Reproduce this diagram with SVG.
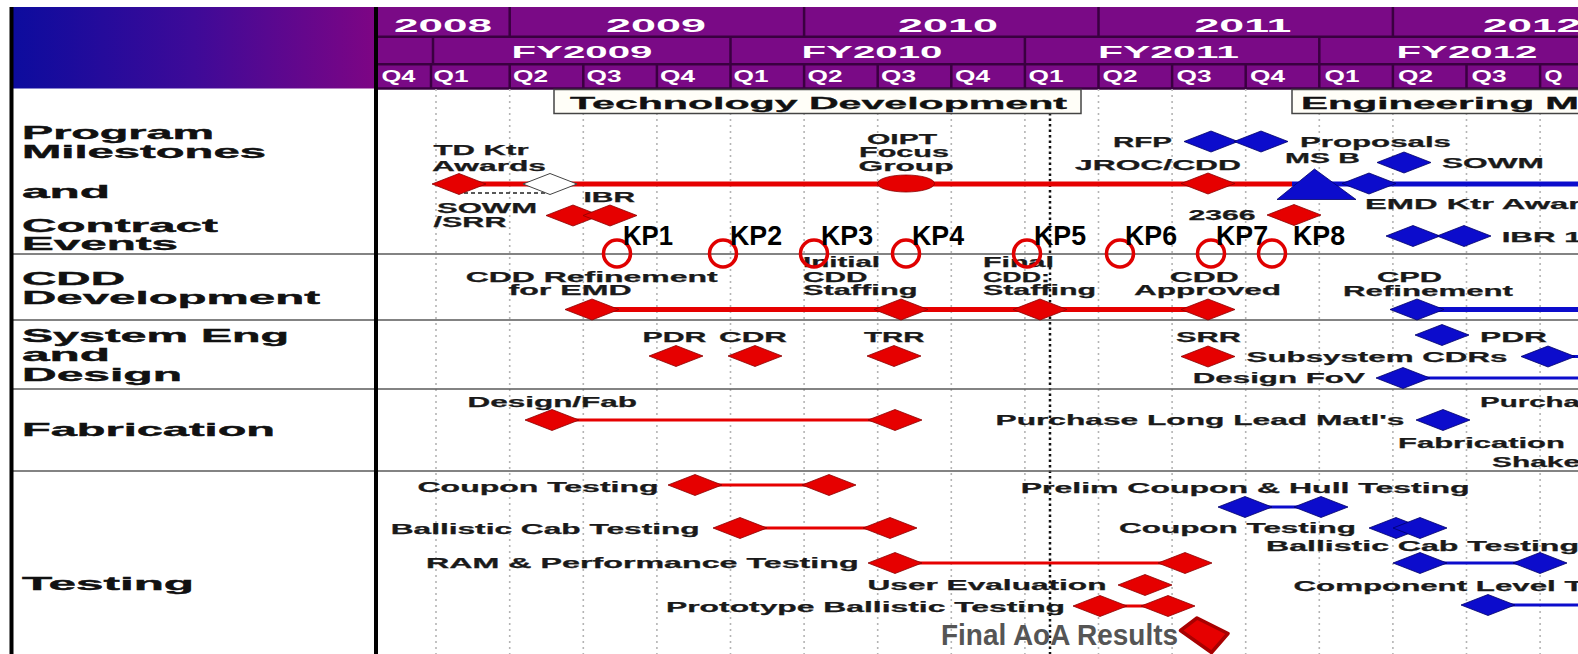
<svg xmlns="http://www.w3.org/2000/svg" width="1578" height="654" viewBox="0 0 1578 654">
<defs>
  <linearGradient id="hdrGrad" x1="0" x2="1" y1="0" y2="0">
    <stop offset="0" stop-color="#0c0c9e"/>
    <stop offset="0.5" stop-color="#3e0a98"/>
    <stop offset="1" stop-color="#7e0584"/>
  </linearGradient>
  <polygon id="dm" points="-27,0 0,-10.5 27,0 0,10.5"/>
</defs>
<style>
  .hd{font-family:"Liberation Sans",Arial,sans-serif;font-weight:bold;fill:#fff}
  .lb{font-family:"Liberation Sans",Arial,sans-serif;font-weight:bold;font-size:19px;fill:#111;stroke:#111;stroke-width:.4}
  .t{font-family:"Liberation Sans",Arial,sans-serif;font-weight:bold;font-size:14px;fill:#1a1a1a;stroke:#1a1a1a;stroke-width:.25}
  .ph{font-family:"Liberation Sans",Arial,sans-serif;font-weight:bold;font-size:16px;fill:#111;stroke:#111;stroke-width:.3}
  .kp{font-family:"Liberation Sans",Arial,sans-serif;font-weight:bold;font-size:28px;fill:#000}
  .aoa{font-family:"Liberation Sans",Arial,sans-serif;font-weight:bold;font-size:30px;fill:#555}
  .r{fill:#e60000;stroke:#8c0000;stroke-width:.8}
  .b{fill:#0c0ccc;stroke:#00006a;stroke-width:.8}
  .grid{stroke:#b4b4b4;stroke-width:1.6;stroke-dasharray:2 4}
  .row{stroke:#5a5a5a;stroke-width:1.6}
  .sep{stroke:#3a0040;stroke-width:2.5}
  .kc{fill:none;stroke:#e00000;stroke-width:3.5}
  .lr{stroke:#e60000;fill:none}
  .lbl{stroke:#0c0ccc;fill:none}
</style>

<rect width="1578" height="654" fill="#fff"/>

<!-- header block -->
<g id="header">
  <rect x="11" y="7" width="366" height="81.5" fill="url(#hdrGrad)"/>
  <rect x="377" y="7" width="1201" height="81.5" fill="#7a0a86"/>
  <g class="sep">
    <line x1="377" y1="36.7" x2="1578" y2="36.7"/>
    <line x1="377" y1="64.3" x2="1578" y2="64.3"/>
    <line x1="377" y1="88.5" x2="1578" y2="88.5"/>
    <line x1="509.7" y1="7" x2="509.7" y2="36.7"/>
    <line x1="804.1" y1="7" x2="804.1" y2="36.7"/>
    <line x1="1098.5" y1="7" x2="1098.5" y2="36.7"/>
    <line x1="1392.9" y1="7" x2="1392.9" y2="36.7"/>
    <line x1="433" y1="36.7" x2="433" y2="64.3"/>
    <line x1="730.5" y1="36.7" x2="730.5" y2="64.3"/>
    <line x1="1024.9" y1="36.7" x2="1024.9" y2="64.3"/>
    <line x1="1319.3" y1="36.7" x2="1319.3" y2="64.3"/>
    <line x1="431" y1="64.3" x2="431" y2="88.5"/>
    <line x1="509.7" y1="64.3" x2="509.7" y2="88.5"/>
    <line x1="583.3" y1="64.3" x2="583.3" y2="88.5"/>
    <line x1="656.9" y1="64.3" x2="656.9" y2="88.5"/>
    <line x1="730.5" y1="64.3" x2="730.5" y2="88.5"/>
    <line x1="804.1" y1="64.3" x2="804.1" y2="88.5"/>
    <line x1="877.7" y1="64.3" x2="877.7" y2="88.5"/>
    <line x1="951.3" y1="64.3" x2="951.3" y2="88.5"/>
    <line x1="1024.9" y1="64.3" x2="1024.9" y2="88.5"/>
    <line x1="1098.5" y1="64.3" x2="1098.5" y2="88.5"/>
    <line x1="1172.1" y1="64.3" x2="1172.1" y2="88.5"/>
    <line x1="1245.7" y1="64.3" x2="1245.7" y2="88.5"/>
    <line x1="1319.3" y1="64.3" x2="1319.3" y2="88.5"/>
    <line x1="1392.9" y1="64.3" x2="1392.9" y2="88.5"/>
    <line x1="1466.5" y1="64.3" x2="1466.5" y2="88.5"/>
    <line x1="1540.1" y1="64.3" x2="1540.1" y2="88.5"/>
  </g>
  <g class="hd" font-size="19" text-anchor="middle">
    <text x="443" y="31.7" textLength="98" lengthAdjust="spacingAndGlyphs">2008</text>
    <text x="656" y="31.7" textLength="100" lengthAdjust="spacingAndGlyphs">2009</text>
    <text x="948" y="31.7" textLength="100" lengthAdjust="spacingAndGlyphs">2010</text>
    <text x="1243" y="31.7" textLength="97" lengthAdjust="spacingAndGlyphs">2011</text>
    <text x="1532" y="31.7" textLength="98" lengthAdjust="spacingAndGlyphs">2012</text>
  </g>
  <g class="hd" font-size="16.5" text-anchor="middle">
    <text x="582" y="58.3" textLength="141" lengthAdjust="spacingAndGlyphs">FY2009</text>
    <text x="872" y="58.3" textLength="141" lengthAdjust="spacingAndGlyphs">FY2010</text>
    <text x="1168.5" y="58.3" textLength="141" lengthAdjust="spacingAndGlyphs">FY2011</text>
    <text x="1467" y="58.3" textLength="141" lengthAdjust="spacingAndGlyphs">FY2012</text>
  </g>
  <g class="hd" font-size="17">
    <text x="381.5" y="81.5" textLength="34" lengthAdjust="spacingAndGlyphs">Q4</text>
    <text x="433.5" y="81.5" textLength="35" lengthAdjust="spacingAndGlyphs">Q1</text>
    <text x="513" y="81.5" textLength="35" lengthAdjust="spacingAndGlyphs">Q2</text>
    <text x="586.5" y="81.5" textLength="35" lengthAdjust="spacingAndGlyphs">Q3</text>
    <text x="660" y="81.5" textLength="35" lengthAdjust="spacingAndGlyphs">Q4</text>
    <text x="733.5" y="81.5" textLength="35" lengthAdjust="spacingAndGlyphs">Q1</text>
    <text x="807.5" y="81.5" textLength="35" lengthAdjust="spacingAndGlyphs">Q2</text>
    <text x="881" y="81.5" textLength="35" lengthAdjust="spacingAndGlyphs">Q3</text>
    <text x="955" y="81.5" textLength="35" lengthAdjust="spacingAndGlyphs">Q4</text>
    <text x="1028.5" y="81.5" textLength="35" lengthAdjust="spacingAndGlyphs">Q1</text>
    <text x="1102.5" y="81.5" textLength="35" lengthAdjust="spacingAndGlyphs">Q2</text>
    <text x="1176.5" y="81.5" textLength="35" lengthAdjust="spacingAndGlyphs">Q3</text>
    <text x="1250" y="81.5" textLength="35" lengthAdjust="spacingAndGlyphs">Q4</text>
    <text x="1324.5" y="81.5" textLength="35" lengthAdjust="spacingAndGlyphs">Q1</text>
    <text x="1398" y="81.5" textLength="35" lengthAdjust="spacingAndGlyphs">Q2</text>
    <text x="1471.5" y="81.5" textLength="35" lengthAdjust="spacingAndGlyphs">Q3</text>
    <text x="1544.5" y="81.5" textLength="18" lengthAdjust="spacingAndGlyphs">Q</text>
  </g>
</g>

<!-- quarter grid -->
<g id="grid" class="grid">
  <line x1="436" y1="89" x2="436" y2="654"/>
  <line x1="509.7" y1="89" x2="509.7" y2="654"/>
  <line x1="583.3" y1="89" x2="583.3" y2="654"/>
  <line x1="656.9" y1="89" x2="656.9" y2="654"/>
  <line x1="730.5" y1="89" x2="730.5" y2="654"/>
  <line x1="804.1" y1="89" x2="804.1" y2="654"/>
  <line x1="877.7" y1="89" x2="877.7" y2="654"/>
  <line x1="951.3" y1="89" x2="951.3" y2="654"/>
  <line x1="1024.9" y1="89" x2="1024.9" y2="654"/>
  <line x1="1098.5" y1="89" x2="1098.5" y2="654"/>
  <line x1="1172.1" y1="89" x2="1172.1" y2="654"/>
  <line x1="1245.7" y1="89" x2="1245.7" y2="654"/>
  <line x1="1319.3" y1="89" x2="1319.3" y2="654"/>
  <line x1="1392.9" y1="89" x2="1392.9" y2="654"/>
  <line x1="1466.5" y1="89" x2="1466.5" y2="654"/>
  <line x1="1540.1" y1="89" x2="1540.1" y2="654"/>
</g>
<line id="status-date" x1="1050" y1="113" x2="1050" y2="654" stroke="#111" stroke-width="2.5" stroke-dasharray="2.5 3"/>

<!-- row dividers and frame -->
<g id="rows" class="row">
  <line x1="11" y1="254" x2="1578" y2="254"/>
  <line x1="11" y1="320" x2="1578" y2="320"/>
  <line x1="11" y1="389" x2="1578" y2="389"/>
  <line x1="11" y1="471" x2="1578" y2="471"/>
</g>
<rect x="9.5" y="7" width="4" height="647" fill="#000"/>
<rect x="374" y="7" width="4" height="647" fill="#000"/>

<!-- row labels -->
<g id="row-labels" class="lb">
  <text x="22" y="139" textLength="192" lengthAdjust="spacingAndGlyphs">Program</text>
  <text x="22" y="158" textLength="244" lengthAdjust="spacingAndGlyphs">Milestones</text>
  <text x="22" y="197.5" textLength="88" lengthAdjust="spacingAndGlyphs">and</text>
  <text x="22" y="231.5" textLength="196" lengthAdjust="spacingAndGlyphs">Contract</text>
  <text x="22" y="250" textLength="156" lengthAdjust="spacingAndGlyphs">Events</text>
  <text x="22" y="284.5" textLength="103" lengthAdjust="spacingAndGlyphs">CDD</text>
  <text x="22" y="303.5" textLength="298" lengthAdjust="spacingAndGlyphs">Development</text>
  <text x="22" y="342" textLength="267" lengthAdjust="spacingAndGlyphs">System Eng</text>
  <text x="22" y="361" textLength="88" lengthAdjust="spacingAndGlyphs">and</text>
  <text x="22" y="380.5" textLength="160" lengthAdjust="spacingAndGlyphs">Design</text>
  <text x="22" y="435.5" textLength="253" lengthAdjust="spacingAndGlyphs">Fabrication</text>
  <text x="22" y="590" textLength="172" lengthAdjust="spacingAndGlyphs">Testing</text>
</g>

<!-- phase boxes -->
<g id="phase-td">
  <rect x="554" y="89.5" width="527" height="24" fill="#fffef8" stroke="#444" stroke-width="1.5"/>
  <text class="ph" x="570" y="108.5" textLength="497" lengthAdjust="spacingAndGlyphs">Technology Development</text>
</g>
<g id="phase-emd">
  <rect x="1292" y="89.5" width="300" height="24" fill="#fffef8" stroke="#444" stroke-width="1.5"/>
  <text class="ph" x="1301" y="108.5" textLength="278" lengthAdjust="spacingAndGlyphs">Engineering M</text>
</g>

<!-- connectors -->
<g id="connectors">
  <line class="lr" x1="459" y1="184" x2="1292" y2="184" stroke-width="5"/>
  <line class="lbl" x1="1292" y1="184" x2="1578" y2="184" stroke-width="5"/>
  <line x1="464" y1="193" x2="548" y2="193" stroke="#222" stroke-width="1.4" stroke-dasharray="4 3"/>
  <line class="lr" x1="592" y1="309.5" x2="1208" y2="309.5" stroke-width="5"/>
  <line class="lbl" x1="1417" y1="309.5" x2="1578" y2="309.5" stroke-width="5"/>
  <line class="lbl" x1="1548" y1="356.5" x2="1578" y2="356.5" stroke-width="3"/>
  <line class="lbl" x1="1403" y1="378" x2="1578" y2="378" stroke-width="3"/>
  <line class="lr" x1="552" y1="420" x2="895" y2="420" stroke-width="3"/>
  <line class="lr" x1="695" y1="485" x2="829" y2="485" stroke-width="3"/>
  <line class="lr" x1="740" y1="528" x2="890" y2="528" stroke-width="3"/>
  <line class="lr" x1="895" y1="563" x2="1185" y2="563" stroke-width="3"/>
  <line class="lr" x1="1100" y1="606" x2="1168" y2="606" stroke-width="3"/>
  <line class="lbl" x1="1245" y1="507" x2="1321" y2="507" stroke-width="3"/>
  <line class="lbl" x1="1420" y1="563" x2="1540" y2="563" stroke-width="3"/>
  <line class="lbl" x1="1488" y1="605" x2="1578" y2="605" stroke-width="3"/>
</g>

<!-- program milestones and contract events -->
<g id="td-ktr-awards">
  <use href="#dm" class="r" x="459" y="184"/>
  <text class="t" x="433.5" y="155" textLength="95" lengthAdjust="spacingAndGlyphs">TD Ktr</text>
  <text class="t" x="432" y="170.5" textLength="114" lengthAdjust="spacingAndGlyphs">Awards</text>
</g>
<g id="td-open">
  <use href="#dm" x="550" y="184" fill="#fff" stroke="#444" stroke-width="1"/>
</g>
<g id="sowm-srr">
  <use href="#dm" class="r" x="573" y="215.5"/>
  <text class="t" x="437" y="213" textLength="100" lengthAdjust="spacingAndGlyphs">SOWM</text>
  <text class="t" x="433.5" y="226.7" textLength="73" lengthAdjust="spacingAndGlyphs">/SRR</text>
</g>
<g id="ibr-td">
  <use href="#dm" class="r" x="610" y="215.5"/>
  <text class="t" x="583.5" y="201.7" textLength="51.5" lengthAdjust="spacingAndGlyphs">IBR</text>
</g>
<g id="oipt">
  <ellipse cx="906" cy="183.5" rx="28.5" ry="8.5" class="r"/>
  <g class="t" text-anchor="middle">
    <text x="902" y="143.5" textLength="70" lengthAdjust="spacingAndGlyphs">OIPT</text>
    <text x="904" y="157" textLength="90" lengthAdjust="spacingAndGlyphs">Focus</text>
    <text x="906" y="170.5" textLength="95" lengthAdjust="spacingAndGlyphs">Group</text>
  </g>
</g>
<g id="rfp">
  <use href="#dm" class="b" x="1211" y="141.5"/>
  <text class="t" x="1113" y="146.7" textLength="59" lengthAdjust="spacingAndGlyphs">RFP</text>
</g>
<g id="proposals">
  <use href="#dm" class="b" x="1261" y="141.5"/>
  <text class="t" x="1300" y="146.7" textLength="151" lengthAdjust="spacingAndGlyphs">Proposals</text>
</g>
<g id="jroc-cdd">
  <use href="#dm" class="r" x="1208" y="183.5"/>
  <text class="t" x="1075" y="170" textLength="166" lengthAdjust="spacingAndGlyphs">JROC/CDD</text>
</g>
<g id="ms-b">
  <polygon points="1277,199.5 1314.5,169 1356,199.5" class="b"/>
  <text class="t" x="1285" y="163.3" textLength="75" lengthAdjust="spacingAndGlyphs">MS B</text>
</g>
<g id="emd-ktr-award">
  <use href="#dm" class="b" x="1369" y="183.5"/>
  <text class="t" x="1365" y="209.3" textLength="216" lengthAdjust="spacingAndGlyphs">EMD Ktr Awar</text>
</g>
<g id="sowm-emd">
  <use href="#dm" class="b" x="1404" y="162.5"/>
  <text class="t" x="1442" y="168" textLength="102" lengthAdjust="spacingAndGlyphs">SOWM</text>
</g>
<g id="dd2366">
  <use href="#dm" class="r" x="1294" y="215"/>
  <text class="t" x="1188.5" y="220" textLength="67" lengthAdjust="spacingAndGlyphs">2366</text>
</g>
<g id="ibr-emd">
  <use href="#dm" class="b" x="1413" y="236"/>
  <use href="#dm" class="b" x="1464" y="236"/>
  <text class="t" x="1501.7" y="241.7" textLength="80" lengthAdjust="spacingAndGlyphs">IBR 1</text>
</g>

<!-- CDD development -->
<g id="cdd-refinement">
  <use href="#dm" class="r" x="592" y="309.5"/>
  <text class="t" x="465.7" y="281.7" textLength="252" lengthAdjust="spacingAndGlyphs">CDD Refinement</text>
  <text class="t" x="508.6" y="295" textLength="123" lengthAdjust="spacingAndGlyphs">for EMD</text>
</g>
<g id="initial-cdd-staffing">
  <use href="#dm" class="r" x="901" y="309.5"/>
  <text class="t" x="803" y="267" textLength="77" lengthAdjust="spacingAndGlyphs">Initial</text>
  <text class="t" x="803" y="281.7" textLength="64.5" lengthAdjust="spacingAndGlyphs">CDD</text>
  <text class="t" x="803" y="295" textLength="114.5" lengthAdjust="spacingAndGlyphs">Staffing</text>
</g>
<g id="final-cdd-staffing">
  <use href="#dm" class="r" x="1040" y="309.5"/>
  <text class="t" x="983" y="266.7" textLength="71" lengthAdjust="spacingAndGlyphs">Final</text>
  <text class="t" x="983" y="281.7" textLength="67" lengthAdjust="spacingAndGlyphs">CDD:</text>
  <text class="t" x="983" y="295" textLength="113" lengthAdjust="spacingAndGlyphs">Staffing</text>
</g>
<g id="cdd-approved">
  <use href="#dm" class="r" x="1208" y="309.5"/>
  <text class="t" x="1169.7" y="281.7" textLength="69" lengthAdjust="spacingAndGlyphs">CDD</text>
  <text class="t" x="1134" y="295" textLength="147" lengthAdjust="spacingAndGlyphs">Approved</text>
</g>
<g id="cpd-refinement">
  <use href="#dm" class="b" x="1417" y="309.5"/>
  <text class="t" x="1377" y="281.5" textLength="65" lengthAdjust="spacingAndGlyphs">CPD</text>
  <text class="t" x="1343" y="295.5" textLength="170" lengthAdjust="spacingAndGlyphs">Refinement</text>
</g>

<!-- system engineering and design -->
<g id="pdr-td">
  <use href="#dm" class="r" x="676" y="356"/>
  <text class="t" x="642.5" y="341.7" textLength="64" lengthAdjust="spacingAndGlyphs">PDR</text>
</g>
<g id="cdr-td">
  <use href="#dm" class="r" x="755" y="356"/>
  <text class="t" x="719" y="341.7" textLength="68" lengthAdjust="spacingAndGlyphs">CDR</text>
</g>
<g id="trr">
  <use href="#dm" class="r" x="894" y="356"/>
  <text class="t" x="864" y="341.7" textLength="60.6" lengthAdjust="spacingAndGlyphs">TRR</text>
</g>
<g id="srr">
  <use href="#dm" class="r" x="1208" y="356.5"/>
  <text class="t" x="1176" y="341.7" textLength="65" lengthAdjust="spacingAndGlyphs">SRR</text>
</g>
<g id="pdr-emd">
  <use href="#dm" class="b" x="1442" y="335"/>
  <text class="t" x="1480" y="341.7" textLength="67" lengthAdjust="spacingAndGlyphs">PDR</text>
</g>
<g id="subsystem-cdrs">
  <use href="#dm" class="b" x="1548" y="356.5"/>
  <text class="t" x="1246.5" y="361.7" textLength="261" lengthAdjust="spacingAndGlyphs">Subsystem CDRs</text>
</g>
<g id="design-fov">
  <use href="#dm" class="b" x="1403" y="378"/>
  <text class="t" x="1192.8" y="383" textLength="172" lengthAdjust="spacingAndGlyphs">Design FoV</text>
</g>

<!-- fabrication -->
<g id="design-fab">
  <use href="#dm" class="r" x="552" y="420"/>
  <use href="#dm" class="r" x="895" y="420"/>
  <text class="t" x="467.5" y="406.7" textLength="169.5" lengthAdjust="spacingAndGlyphs">Design/Fab</text>
</g>
<g id="long-lead">
  <use href="#dm" class="b" x="1443" y="420"/>
  <text class="t" x="995.5" y="425" textLength="409" lengthAdjust="spacingAndGlyphs">Purchase Long Lead Matl's</text>
</g>
<g id="fab-emd">
  <text class="t" x="1480" y="406.7" textLength="100" lengthAdjust="spacingAndGlyphs">Purcha</text>
  <text class="t" x="1398" y="448" textLength="167" lengthAdjust="spacingAndGlyphs">Fabrication</text>
  <text class="t" x="1492" y="466.7" textLength="88" lengthAdjust="spacingAndGlyphs">Shake</text>
</g>

<!-- testing -->
<g id="coupon-td">
  <use href="#dm" class="r" x="695" y="485"/>
  <use href="#dm" class="r" x="829" y="485"/>
  <text class="t" x="417.5" y="492" textLength="241" lengthAdjust="spacingAndGlyphs">Coupon Testing</text>
</g>
<g id="ballistic-td">
  <use href="#dm" class="r" x="740" y="528"/>
  <use href="#dm" class="r" x="890" y="528"/>
  <text class="t" x="390.7" y="534" textLength="309" lengthAdjust="spacingAndGlyphs">Ballistic Cab Testing</text>
</g>
<g id="ram-perf">
  <use href="#dm" class="r" x="895" y="563"/>
  <use href="#dm" class="r" x="1185" y="563"/>
  <text class="t" x="426" y="568" textLength="432.6" lengthAdjust="spacingAndGlyphs">RAM &amp; Performance Testing</text>
</g>
<g id="user-eval">
  <use href="#dm" class="r" x="1145" y="585"/>
  <text class="t" x="867.5" y="590" textLength="239" lengthAdjust="spacingAndGlyphs">User Evaluation</text>
</g>
<g id="proto-ballistic">
  <use href="#dm" class="r" x="1100" y="606"/>
  <use href="#dm" class="r" x="1168" y="606"/>
  <text class="t" x="666" y="611.7" textLength="399" lengthAdjust="spacingAndGlyphs">Prototype Ballistic Testing</text>
</g>
<g id="final-aoa">
  <polygon points="1197,618 1228,633.5 1211.5,652.5 1180.5,630.5" fill="#e60000" stroke="#a80000" stroke-width="3.5" stroke-linejoin="round"/>
  <text class="aoa" x="941" y="645" textLength="237" lengthAdjust="spacingAndGlyphs">Final AoA Results</text>
</g>
<g id="prelim-coupon-hull">
  <use href="#dm" class="b" x="1245" y="507"/>
  <use href="#dm" class="b" x="1321" y="507"/>
  <text class="t" x="1020.7" y="493" textLength="449" lengthAdjust="spacingAndGlyphs">Prelim Coupon &amp; Hull Testing</text>
</g>
<g id="coupon-emd">
  <use href="#dm" class="b" x="1396" y="528"/>
  <use href="#dm" class="b" x="1420" y="528"/>
  <text class="t" x="1119" y="533" textLength="237" lengthAdjust="spacingAndGlyphs">Coupon Testing</text>
</g>
<g id="ballistic-emd">
  <use href="#dm" class="b" x="1420" y="563"/>
  <use href="#dm" class="b" x="1540" y="563"/>
  <text class="t" x="1266" y="550.5" textLength="313" lengthAdjust="spacingAndGlyphs">Ballistic Cab Testing</text>
</g>
<g id="component-level">
  <use href="#dm" class="b" x="1488" y="605"/>
  <text class="t" x="1293.5" y="590.5" textLength="290" lengthAdjust="spacingAndGlyphs">Component Level T</text>
</g>

<!-- knowledge point markers -->
<g id="kp1"><circle class="kc" cx="617" cy="253.5" r="13.5"/><text class="kp" x="623" y="245" textLength="50" lengthAdjust="spacingAndGlyphs">KP1</text></g>
<g id="kp2"><circle class="kc" cx="723" cy="253.5" r="13.5"/><text class="kp" x="730" y="245" textLength="52" lengthAdjust="spacingAndGlyphs">KP2</text></g>
<g id="kp3"><circle class="kc" cx="814" cy="253.5" r="13.5"/><text class="kp" x="821" y="245" textLength="52" lengthAdjust="spacingAndGlyphs">KP3</text></g>
<g id="kp4"><circle class="kc" cx="906" cy="253.5" r="13.5"/><text class="kp" x="912" y="245" textLength="52" lengthAdjust="spacingAndGlyphs">KP4</text></g>
<g id="kp5"><circle class="kc" cx="1027" cy="253.5" r="13.5"/><text class="kp" x="1034" y="245" textLength="52" lengthAdjust="spacingAndGlyphs">KP5</text></g>
<g id="kp6"><circle class="kc" cx="1120" cy="253.5" r="13.5"/><text class="kp" x="1125" y="245" textLength="52" lengthAdjust="spacingAndGlyphs">KP6</text></g>
<g id="kp7"><circle class="kc" cx="1211" cy="253.5" r="13.5"/><text class="kp" x="1216" y="245" textLength="52" lengthAdjust="spacingAndGlyphs">KP7</text></g>
<g id="kp8"><circle class="kc" cx="1272" cy="253.5" r="13.5"/><text class="kp" x="1293" y="245" textLength="52" lengthAdjust="spacingAndGlyphs">KP8</text></g>
</svg>
